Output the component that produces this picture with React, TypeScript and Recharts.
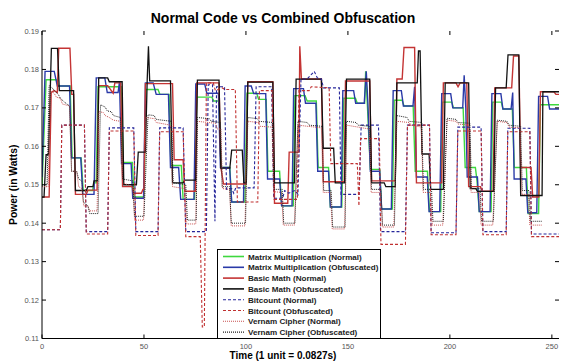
import { LineChart, Line, XAxis, YAxis, Legend, Label } from "recharts";

// series are step-like traces, kept as [time, watts] breakpoints
const mmNormal = [
  [0, 0.1495], [2, 0.1773], [7, 0.1773], [8, 0.1757], [13.8, 0.1757], [14.8, 0.157], [19.2, 0.157], [20.2, 0.1485], [24.8, 0.1485], [25.5, 0.1505], [26.6, 0.1505],
  [27.5, 0.1755], [38.8, 0.1755], [39.8, 0.1558], [44.3, 0.1558], [45.2, 0.1468], [50, 0.1468],
  [51, 0.1748], [56.9, 0.1748], [57.8, 0.1735], [62.3, 0.1735], [63.2, 0.155], [68.3, 0.155], [69.2, 0.1462], [74.8, 0.1462],
  [75.9, 0.1728], [83.3, 0.1728], [84.2, 0.1718], [86.8, 0.1718], [87.7, 0.1545], [92.1, 0.1545], [93, 0.1455], [99.5, 0.1455],
  [100.5, 0.1738], [105.3, 0.1738], [106.2, 0.1722], [109.9, 0.1722], [110.8, 0.1535], [116.5, 0.1535], [117.5, 0.1445], [123.2, 0.1445],
  [124, 0.1732], [129, 0.1732], [130, 0.1718], [134.5, 0.1718], [135.4, 0.1545], [140.5, 0.1545], [141.4, 0.1442], [147, 0.1442],
  [148, 0.1725], [153.7, 0.1725], [154.6, 0.1712], [158.2, 0.1712], [158.7, 0.1795], [159.5, 0.1712], [161, 0.154], [165.6, 0.154], [166.5, 0.1437], [171.8, 0.1437],
  [172.7, 0.172], [176.6, 0.172], [177.5, 0.1705], [182, 0.1705], [183, 0.1535], [189, 0.1535], [190, 0.143], [195.5, 0.143],
  [196.3, 0.1715], [200.9, 0.1715], [201.8, 0.17], [206.5, 0.17], [207.5, 0.1545], [212.5, 0.1545], [213.3, 0.151], [214.4, 0.143], [220.2, 0.143],
  [221, 0.1715], [225.2, 0.1715], [226, 0.1697], [230.6, 0.1697], [231.6, 0.1545], [237.5, 0.1545], [238.4, 0.1425], [243.5, 0.1425],
  [244.4, 0.1708], [253.5, 0.1708],
];

const mmObf = [
  [0, 0.152], [1.5, 0.1795], [6, 0.1795], [7.5, 0.1757], [13.5, 0.1757], [14.5, 0.157], [19, 0.157], [20, 0.1475], [25.5, 0.1475],
  [26.6, 0.1778], [30.8, 0.1778], [32, 0.174], [37.3, 0.174], [38, 0.1768], [39, 0.1555], [43.7, 0.1555], [44.5, 0.1465], [49.8, 0.1465],
  [50.7, 0.1765], [54.5, 0.1765], [56, 0.1735], [62, 0.1735], [63, 0.1545], [67, 0.1545], [68, 0.1462], [74.5, 0.1462],
  [75.4, 0.1762], [79.8, 0.1762], [80.8, 0.1738], [86.5, 0.1738], [87.5, 0.1545], [92, 0.1545], [93, 0.1455], [98.8, 0.1455],
  [99.6, 0.1757], [102.6, 0.1757], [103.8, 0.1737], [109.7, 0.1737], [110.6, 0.1515], [116.5, 0.1515], [117.5, 0.1445], [122.6, 0.1445],
  [123.4, 0.175], [128.2, 0.175], [129.2, 0.1712], [134.3, 0.1712], [135.2, 0.1535], [140.5, 0.1535], [141.4, 0.1442], [146.7, 0.1442],
  [147.5, 0.1745], [152.8, 0.1745], [153.8, 0.1712], [158, 0.1712], [159, 0.1795], [159.8, 0.1712], [161, 0.1535], [165.6, 0.1535], [166.5, 0.1437], [171.3, 0.1437],
  [172.2, 0.1745], [176.2, 0.1745], [177.2, 0.1705], [181.9, 0.1705], [182.7, 0.1755], [183.6, 0.152], [188.9, 0.152], [189.8, 0.143], [195, 0.143],
  [196, 0.1737], [200.4, 0.1737], [201.4, 0.17], [206.3, 0.17], [207, 0.1785], [207.8, 0.17], [208.5, 0.152], [213.5, 0.152], [214.4, 0.143], [219.7, 0.143],
  [220.6, 0.1737], [225, 0.1737], [226, 0.1697], [230, 0.1697], [230.8, 0.174], [231.5, 0.1515], [237.3, 0.1515], [238.2, 0.1427], [242.6, 0.1427],
  [243.5, 0.173], [247.9, 0.173], [248.9, 0.1697], [253.5, 0.1697],
];

const bmNormal = [
  [0, 0.1468], [3.5, 0.1468], [4.5, 0.174], [6, 0.1745], [7.5, 0.174], [8.2, 0.1855], [13.7, 0.1855], [14.6, 0.1735], [15.5, 0.1735], [16.4, 0.1475], [21.7, 0.1475], [22.5, 0.1486], [27, 0.1486],
  [27.8, 0.1758], [32.2, 0.1758], [34.9, 0.1738], [35.7, 0.1765], [38.6, 0.1765], [39.5, 0.1495], [44.3, 0.1495], [45, 0.1478], [48.7, 0.1478], [49.5, 0.1488], [50, 0.1488],
  [50.7, 0.1763], [64, 0.1763], [64.8, 0.1565], [69.2, 0.1565], [70, 0.1483], [75.2, 0.1483],
  [75.9, 0.1765], [86.8, 0.1765], [87.7, 0.1545], [89, 0.1502], [100, 0.1502],
  [100.9, 0.1768], [113.2, 0.1768], [114, 0.1452], [120.5, 0.1452], [121.2, 0.1585], [126, 0.1585], [126.4, 0.186], [127.2, 0.1775], [137, 0.1775], [137.9, 0.1508], [148.2, 0.1508],
  [148.8, 0.177], [160.7, 0.177], [161.6, 0.151], [173.2, 0.151],
  [174, 0.1775], [176.6, 0.1775], [177.5, 0.1857], [182.7, 0.1857], [183.6, 0.1505], [196, 0.1505],
  [196.8, 0.1765], [203, 0.1765], [204, 0.1755], [205, 0.1765], [208.3, 0.1765], [209.2, 0.1495], [215, 0.1495], [215.8, 0.1483], [221.2, 0.1483],
  [222, 0.1752], [230.3, 0.1752], [231.2, 0.1835], [233.8, 0.1835], [234.7, 0.1545], [239.8, 0.1545], [240.6, 0.1468], [243.6, 0.1468],
  [244.4, 0.1742], [251, 0.1742], [252, 0.1735], [253.5, 0.1735],
];

const bmObf = [
  [0, 0.1468], [1, 0.1468], [2, 0.1578], [3.2, 0.1578], [4.6, 0.1855], [7.6, 0.1855], [8.5, 0.1745], [15.5, 0.1745], [16.4, 0.1485], [21.7, 0.1485], [22.5, 0.1495], [25, 0.1495], [25.5, 0.151], [27.2, 0.151],
  [27.8, 0.1778], [32.2, 0.1778], [33, 0.1768], [39.3, 0.1768], [40.1, 0.15], [46.3, 0.15], [47.2, 0.1585], [50.7, 0.1585],
  [51.6, 0.1775], [52.2, 0.186], [52.8, 0.177], [63, 0.177], [64, 0.1505], [69.2, 0.1505], [70, 0.1512], [75.4, 0.1512],
  [76.2, 0.1772], [86.8, 0.1772], [87.7, 0.1543], [92.1, 0.1543], [93, 0.159], [98.2, 0.159], [99, 0.1505], [100.2, 0.1505],
  [100.9, 0.1767], [113.2, 0.1767], [114, 0.1505], [123.8, 0.1505],
  [124.6, 0.1775], [137, 0.1775], [137.9, 0.1595], [143, 0.1595], [143.8, 0.1505], [148.4, 0.1505],
  [149.3, 0.1775], [160.7, 0.1775], [161.6, 0.1505], [167.8, 0.1505], [168.6, 0.1495], [173.2, 0.1495],
  [174, 0.1765], [184, 0.1765], [184.6, 0.1848], [185.4, 0.1848], [186.3, 0.158], [189.8, 0.158], [190.6, 0.1488], [196.8, 0.1488],
  [197.7, 0.1765], [209.2, 0.1765], [210, 0.149], [212.7, 0.149], [213.5, 0.1483], [221.5, 0.1483],
  [222.4, 0.1752], [227.6, 0.1752], [228.5, 0.1838], [233.8, 0.1838], [234.7, 0.1472], [245.2, 0.1472],
  [245.6, 0.1742], [253.5, 0.1742],
];

const bcNormal = [
  [0, 0.1383], [9, 0.1383], [9.7, 0.1655], [20.8, 0.1655], [21.7, 0.1378], [32.2, 0.1378], [33, 0.1648], [45, 0.1648], [46, 0.1378], [56.9, 0.1378], [57.7, 0.1648], [69.2, 0.1648], [70.5, 0.1378], [80.6, 0.1378],
  [81.5, 0.176], [83.6, 0.176], [84.8, 0.1405], [85.6, 0.1755], [89.5, 0.1755], [90.5, 0.1488], [93, 0.149], [94, 0.1478], [95, 0.1492], [104, 0.1492],
  [105, 0.1755], [112.6, 0.1755], [113.6, 0.1465], [118, 0.1465], [119, 0.1485], [121, 0.1478], [124, 0.1485], [125.5, 0.1475],
  [127, 0.1775], [130, 0.1775], [133.5, 0.1795], [135, 0.1778], [137, 0.1775], [138, 0.1752], [145.8, 0.1752], [146.6, 0.1475], [155.5, 0.1475],
  [156.5, 0.1655], [165, 0.1655], [166, 0.1378], [178.2, 0.1378], [179.2, 0.1655], [190, 0.1655], [190.8, 0.1375], [203, 0.1375],
  [203.9, 0.165], [215.3, 0.165], [216.2, 0.1378], [227.6, 0.1378], [228.4, 0.1647], [239.2, 0.1647], [240, 0.1372], [253.5, 0.1372],
];

const bcObf = [
  [0, 0.1383], [9, 0.1383], [9.7, 0.1655], [20.8, 0.1655], [21.7, 0.1372], [32.2, 0.1372], [33, 0.164], [45, 0.164], [46, 0.1368], [56.9, 0.1368], [57.7, 0.1638], [69.2, 0.1638], [70.5, 0.1365], [77.6, 0.1365],
  [78.6, 0.113], [79.6, 0.113], [80.6, 0.1765], [84, 0.1765], [85, 0.1745], [88.5, 0.1752], [89.5, 0.1748], [94.8, 0.1748], [95.8, 0.1455], [105.8, 0.1455],
  [106.6, 0.1745], [112.8, 0.1745], [113.8, 0.1462], [125.2, 0.1462], [126, 0.1745], [131, 0.1745], [132, 0.1755], [140.8, 0.1752], [141.6, 0.1555], [154.6, 0.1555],
  [155.4, 0.1445], [156.2, 0.162], [165.4, 0.162], [166.2, 0.1345], [178.2, 0.1345], [179.2, 0.1655], [190, 0.1655], [190.8, 0.137], [203, 0.137],
  [203.9, 0.164], [215.3, 0.164], [216.2, 0.137], [227.6, 0.137], [228.4, 0.1638], [239.2, 0.1638], [240, 0.1365], [253.5, 0.1365],
];

const vcNormal = [
  [0, 0.1495], [3, 0.1495], [4, 0.1745], [6, 0.1738], [7, 0.1728], [9, 0.1725], [10, 0.171], [13.5, 0.1705], [14.5, 0.1535], [17, 0.1535], [18, 0.1495], [19.5, 0.149], [20.5, 0.1445], [22.5, 0.1445], [23.4, 0.1432], [27, 0.1432],
  [28, 0.169], [30, 0.1688], [31, 0.168], [33, 0.1675], [35, 0.1668], [38.5, 0.1665], [39.5, 0.1505], [44.5, 0.1495], [45.4, 0.1408], [49.8, 0.1408],
  [51, 0.1675], [55, 0.1672], [56, 0.1662], [63, 0.1655], [64, 0.1495], [70, 0.149], [71, 0.1398], [75.4, 0.1398],
  [76.2, 0.1665], [85, 0.166], [86, 0.1645], [87.7, 0.1645], [88.5, 0.149], [92, 0.1488], [92.8, 0.1393], [99.5, 0.1393],
  [100.9, 0.1665], [106, 0.1662], [107, 0.1652], [112.8, 0.165], [113.6, 0.1482], [117.5, 0.148], [118.3, 0.1395], [123.8, 0.1395],
  [125.5, 0.1655], [137, 0.1648], [137.9, 0.148], [141.5, 0.148], [142.3, 0.1385], [148.4, 0.1385],
  [149.3, 0.1655], [155, 0.165], [160.5, 0.1645], [161.4, 0.148], [166, 0.148], [166.9, 0.139], [172.5, 0.139],
  [174, 0.1665], [180, 0.1662], [181, 0.1655], [186, 0.165], [186.9, 0.148], [190.5, 0.148], [191.4, 0.1395], [196.5, 0.1395],
  [198.6, 0.1668], [203, 0.1665], [204, 0.1658], [209.5, 0.1655], [210.4, 0.148], [214.5, 0.148], [215.3, 0.1395], [221, 0.1395],
  [223.2, 0.1665], [228, 0.1662], [229, 0.165], [234.4, 0.1648], [235.3, 0.1475], [238.5, 0.1475], [239.2, 0.1395], [245, 0.1395],
];

const vcObf = [
  [0, 0.15], [2.5, 0.15], [3.5, 0.1758], [5, 0.1752], [6, 0.1745], [8, 0.1735], [9, 0.1725], [11, 0.1715], [13.5, 0.1705], [14.5, 0.1535], [17, 0.1535], [18, 0.1515], [19.5, 0.151], [20.3, 0.1455], [22.5, 0.1445], [23.4, 0.1425], [27.5, 0.1425],
  [28.7, 0.1708], [31, 0.1702], [32, 0.1692], [34, 0.169], [35, 0.168], [38.5, 0.1675], [39.5, 0.1515], [44.5, 0.151], [45.4, 0.1418], [50, 0.1418],
  [52, 0.1682], [55, 0.168], [56, 0.167], [63.5, 0.1665], [64.3, 0.1505], [70.5, 0.15], [71.3, 0.1408], [75.6, 0.1408],
  [76.2, 0.1675], [82, 0.1672], [83, 0.1665], [87.5, 0.1662], [88.3, 0.1495], [92, 0.1495], [92.8, 0.14], [99.8, 0.14],
  [100.9, 0.1675], [105.5, 0.1672], [106.5, 0.1665], [113, 0.1662], [113.8, 0.1488], [117.8, 0.1488], [118.5, 0.14], [124, 0.14],
  [125.5, 0.1665], [130, 0.1662], [131, 0.1655], [137.3, 0.1652], [138.1, 0.1485], [141.8, 0.1485], [142.5, 0.139], [148.6, 0.139],
  [149.3, 0.1665], [154, 0.1662], [155, 0.1655], [160.7, 0.1652], [161.5, 0.1488], [166.2, 0.1488], [167, 0.1395], [172.8, 0.1395],
  [174, 0.168], [179, 0.1675], [180, 0.1665], [186.2, 0.1662], [187, 0.1488], [191, 0.1488], [191.7, 0.1405], [196.8, 0.1405],
  [198.6, 0.1673], [203, 0.167], [204, 0.1662], [209.8, 0.166], [210.6, 0.149], [214.8, 0.149], [215.5, 0.1405], [221.3, 0.1405],
  [223.2, 0.1668], [228, 0.1665], [229, 0.1655], [234.7, 0.1652], [235.5, 0.1485], [238.8, 0.1485], [239.5, 0.1405], [245, 0.1405],
];

const xTicks = [0, 50, 100, 150, 200, 250];
const yTicks = [0.11, 0.12, 0.13, 0.14, 0.15, 0.16, 0.17, 0.18, 0.19];

const FONT = '"Liberation Sans", Arial, sans-serif';
const PLOT_L = 42;
const PLOT_R = 559;
const PLOT_T = 31;
const PLOT_B = 338.5;
const LABEL_CX = 283; // title and x label sit left of plot centre in the source

const series = [
  { name: "Matrix Multiplication (Normal)", data: mmNormal, color: "#3ed83e", dash: undefined, width: 1.4 },
  { name: "Matrix Multiplication (Obfuscated)", data: mmObf, color: "#2a3aa8", dash: undefined, width: 1.4 },
  { name: "Basic Math (Normal)", data: bmNormal, color: "#c43434", dash: undefined, width: 1.4 },
  { name: "Basic Math (Obfuscated)", data: bmObf, color: "#111111", dash: undefined, width: 1.3 },
  { name: "Bitcount (Normal)", data: bcNormal, color: "#26269a", dash: "3 2", width: 1.1 },
  { name: "Bitcount (Obfuscated)", data: bcObf, color: "#c03030", dash: "3 2", width: 1.1 },
  { name: "Vernam Cipher (Normal)", data: vcNormal, color: "#c85050", dash: "1 1", width: 1 },
  { name: "Vernam Cipher (Obfuscated)", data: vcObf, color: "#222222", dash: "1 1", width: 1 },
];

const XTick = (props: any) => {
  const { x, payload } = props;
  return (
    <g>
      <line x1={x} x2={x} y1={PLOT_B} y2={PLOT_B - 4} stroke="#000" />
      <line x1={x} x2={x} y1={PLOT_T} y2={PLOT_T + 4} stroke="#000" />
      <text x={x} y={PLOT_B + 10} textAnchor="middle" fontSize={7.5} fill="#555" fontFamily={FONT}>
        {payload.value}
      </text>
    </g>
  );
};

const YTick = (props: any) => {
  const { y, payload } = props;
  return (
    <g>
      <line x1={PLOT_L} x2={PLOT_L + 4} y1={y} y2={y} stroke="#000" />
      <line x1={PLOT_R} x2={PLOT_R - 4} y1={y} y2={y} stroke="#000" />
      <text x={PLOT_L - 3} y={y + 2.5} textAnchor="end" fontSize={7.5} fill="#555" fontFamily={FONT}>
        {payload.value.toFixed(2)}
      </text>
    </g>
  );
};

const LegendBox = () => (
  <svg width={164} height={90} style={{ display: "block" }}>
    <rect x={0.5} y={0.5} width={163} height={89} fill="#fff" stroke="#000" />
    {series.map((s, i) => {
      const y = 7.5 + i * 10.8;
      return (
        <g key={s.name}>
          <line x1={6} x2={27} y1={y} y2={y} stroke={s.color} strokeWidth={s.dash ? 1.1 : 1.6} strokeDasharray={s.dash} />
          <text x={31} y={y + 3} fontSize={8.1} fontWeight="bold" fill="#222" fontFamily={FONT}>
            {s.name}
          </text>
        </g>
      );
    })}
  </svg>
);

export default function App() {
  const midY = (PLOT_T + PLOT_B) / 2;
  return (
    <div style={{ position: "absolute", left: 0, top: 0, background: "#fff" }}>
      <LineChart width={563} height={362} margin={{ top: PLOT_T, right: 563 - PLOT_R, bottom: 0, left: 0 }}>
        <XAxis
          dataKey="x"
          type="number"
          domain={[0, 253.5]}
          ticks={xTicks}
          height={362 - PLOT_B}
          axisLine={{ stroke: "#000" }}
          tickLine={false}
          tick={<XTick />}
          interval={0}
          allowDataOverflow
        >
          <Label
            content={() => (
              <text x={LABEL_CX} y={359} textAnchor="middle" fontSize={10} fontWeight="bold" fontFamily={FONT} fill="#000">
                Time (1 unit = 0.0827s)
              </text>
            )}
          />
        </XAxis>
        <XAxis xAxisId="top" orientation="top" type="number" domain={[0, 253.5]} height={0} tick={false} tickLine={false} axisLine={{ stroke: "#000" }} />
        <YAxis
          type="number"
          domain={[0.11, 0.19]}
          ticks={yTicks}
          width={PLOT_L}
          axisLine={{ stroke: "#000" }}
          tickLine={false}
          tick={<YTick />}
          interval={0}
          allowDataOverflow
        >
          <Label
            content={() => (
              <g>
                <text
                  x={17}
                  y={midY}
                  transform={`rotate(-90 17 ${midY})`}
                  textAnchor="middle"
                  fontSize={10.3}
                  fontWeight="bold"
                  fontFamily={FONT}
                  fill="#000"
                >
                  Power (in Watts)
                </text>
                <text x={LABEL_CX} y={23} textAnchor="middle" fontSize={14} fontWeight="bold" fontFamily={FONT} fill="#000">
                  Normal Code vs Combined Obfuscation
                </text>
              </g>
            )}
          />
        </YAxis>
        <YAxis yAxisId="right" orientation="right" type="number" domain={[0.11, 0.19]} width={0} tick={false} tickLine={false} axisLine={{ stroke: "#000" }} />
        {series.map((s) => (
          <Line
            key={s.name}
            data={s.data.map(([x, y]) => ({ x, y }))}
            dataKey="y"
            name={s.name}
            type="linear"
            stroke={s.color}
            strokeWidth={s.width}
            strokeDasharray={s.dash}
            dot={false}
            activeDot={false}
            isAnimationActive={false}
          />
        ))}
        <Legend
          layout="vertical"
          align="center"
          verticalAlign="middle"
          content={<LegendBox />}
          wrapperStyle={{ left: 217, top: 249, width: 164, height: 90 }}
        />
      </LineChart>
    </div>
  );
}
